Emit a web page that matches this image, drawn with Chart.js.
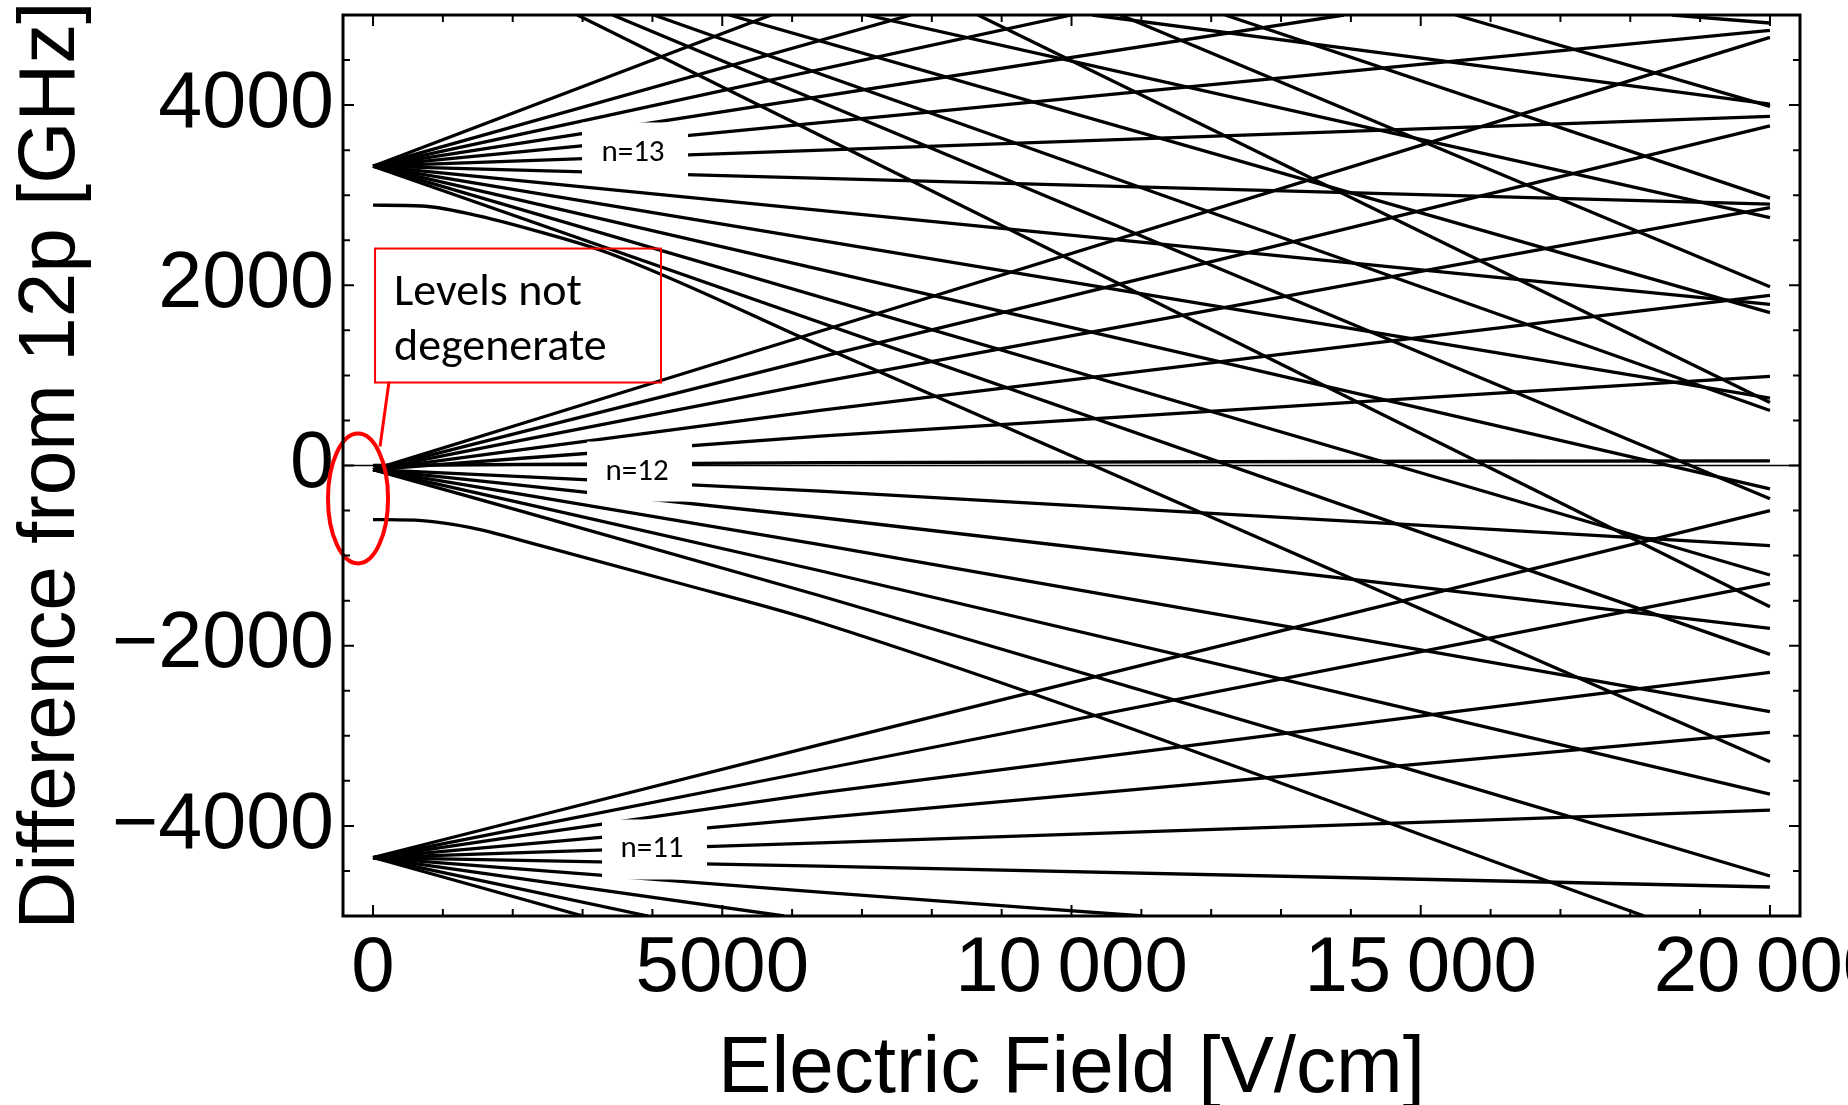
<!DOCTYPE html>
<html><head><meta charset="utf-8">
<script src="https://cdn.jsdelivr.net/npm/chart.js@4"></script>
<style>
html,body{margin:0;padding:0;background:#fff;overflow:hidden}
#wrap{position:relative;width:1848px;height:1105px}
</style></head><body>
<div id="wrap"><canvas id="c" width="1848" height="1105"></canvas></div>
<script>
// ===== axis ticks =====
const xTicks = [0, 5000, 10000, 15000, 20000];
const xTickLabels = ['0', '5000', '10\u2009000', '15\u2009000', '20\u2009000'];
const xMinorTicks = [0,1000,2000,3000,4000,5000,6000,7000,8000,9000,10000,11000,12000,13000,14000,15000,16000,17000,18000,19000,20000];
const yTicks = [-4000, -2000, 0, 2000, 4000];
const yTickLabels = ['\u22124000', '\u22122000', '0', '2000', '4000'];
const yMinorTicks = [-4500,-4000,-3500,-3000,-2500,-2000,-1500,-1000,-500,0,500,1000,1500,2000,2500,3000,3500,4000,4500];

// ===== energy levels: [field V/cm, difference GHz] =====
const n11Lines = [
  [[0,-4351],[6400,-3097],[20000,-500]],
  [[0,-4351],[6400,-3374],[20000,-1307]],
  [[0,-4351],[6400,-3633],[20000,-2296]],
  [[0,-4351],[6400,-3910],[20000,-2963]],
  [[0,-4351],[6400,-4188],[20000,-3826]],
  [[0,-4351],[6400,-4447],[20000,-4678]],
  [[0,-4351],[6400,-4736],[11024,-5000]],
  [[0,-4351],[5884,-5000]],
  [[0,-4351],[3937,-5000]],
  [[0,-4351],[3006,-5000]]
];
const n12Lines = [
  [[0,-45],[6400,1490],[20000,4752]],
  [[0,-45],[6400,1202],[20000,3770]],
  [[0,-45],[6400,925],[20000,2863]],
  [[0,-45],[6400,611],[20000,1889]],
  [[0,-45],[6400,325],[20000,989]],
  [[0,0],[6400,33],[20000,52]],
  [[0,-45],[6400,-285],[20000,-889]],
  [[0,-45],[6400,-577],[20000,-1808]],
  [[0,-45],[6400,-877],[20000,-2733]],
  [[0,-45],[6400,-1168],[20000,-3648]],
  [[0,-45],[6400,-1446],[20000,-4556]],
  [[0,-600],[700,-612],[1400,-690],[2400,-890],[4400,-1310],[6400,-1742],[18200,-5000]]
];
const n13Lines = [
  [[0,3322],[5700,5000]],
  [[0,3322],[7700,5000]],
  [[0,3322],[10000,5000]],
  [[0,3322],[13900,5000]],
  [[0,3322],[20000,4830]],
  [[0,3322],[20000,3874]],
  [[0,3322],[20000,2900]],
  [[0,3322],[20000,1789]],
  [[0,3322],[20000,748]],
  [[0,3322],[20000,-259]],
  [[0,3322],[20000,-1215]],
  [[0,3322],[20000,-2096]],
  [[0,2889],[700,2880],[1400,2790],[2400,2590],[3350,2364],[6400,1330],[20000,-3289]]
];
const n14Lines = [
  [[2925,5000],[20000,-1567]],
  [[3430,5000],[20000,-370]],
  [[4020,5000],[20000,611]],
  [[5100,5000],[20000,1696]],
  [[7060,5000],[20000,2752]],
  [[10300,5000],[20000,4011]],
  [[18600,5000],[20000,4911]]
];
const n15Lines = [
  [[8660,5000],[20000,700]],
  [[10700,5000],[20000,1985]],
  [[12200,5000],[20000,2967]],
  [[15500,5000],[20000,3985]]
];
const zeroLine = [[-430,0],[20430,0]];

// ===== annotations (data coordinates) =====
const manifoldLabels = [
  {text:'n=13', e0:2992, e1:4510, v0:3141, v1:3807, te:3722, tv:3463},
  {text:'n=12', e0:3064, e1:4567, v0:-400, v1:266, te:3780, tv:-74},
  {text:'n=11', e0:3278, e1:4782, v0:-4595, v1:-3929, te:3994, tv:-4262}
];
const noteBox = {e0:29, e1:4123, v0:921, v1:2408, lines:['Levels not','degenerate'], te:300, tv:[1780,1170]};
const noteLeader = [[229,932],[100,211]];
const noteEllipse = {e:-215, v:-366, re:430, rv:721};

// ===== build datasets =====
const datasets = [];
function addGroup(lines, w) {
  lines.forEach(l => datasets.push({
    data: l.map(p => ({x: p[0], y: p[1]})),
    borderColor: '#000', borderWidth: w, pointRadius: 0,
    cubicInterpolationMode: 'monotone', fill: false
  }));
}
addGroup([zeroLine], 1.3);
addGroup(n11Lines, 3.3);
addGroup(n12Lines, 3.3);
addGroup(n13Lines, 3.3);
addGroup(n14Lines, 3.3);
addGroup(n15Lines, 3.3);

const overlay = {
  id: 'overlay',
  afterDatasetsDraw(chart) {
    const {ctx, chartArea: a, scales: {x, y}} = chart;
    const X = v => x.getPixelForValue(v), Y = v => y.getPixelForValue(v);
    ctx.save();
    ctx.font = '31px Carlito, Lato, sans-serif';
    ctx.textAlign = 'center'; ctx.textBaseline = 'middle';
    manifoldLabels.forEach(m => {
      ctx.fillStyle = '#fff';
      ctx.fillRect(X(m.e0), Y(m.v1), X(m.e1) - X(m.e0), Y(m.v0) - Y(m.v1));
      ctx.fillStyle = '#000';
      ctx.fillText(m.text, X(m.te), Y(m.tv));
    });
    ctx.strokeStyle = '#ff0000'; ctx.lineWidth = 2;
    ctx.strokeRect(X(noteBox.e0), Y(noteBox.v1), X(noteBox.e1) - X(noteBox.e0), Y(noteBox.v0) - Y(noteBox.v1));
    ctx.fillStyle = '#000'; ctx.textAlign = 'left'; ctx.textBaseline = 'alphabetic';
    ctx.font = '46px Carlito, Lato, sans-serif';
    noteBox.lines.forEach((t, i) => ctx.fillText(t, X(noteBox.te), Y(noteBox.tv[i])));
    ctx.lineWidth = 3;
    ctx.beginPath();
    ctx.moveTo(X(noteLeader[0][0]), Y(noteLeader[0][1]));
    ctx.lineTo(X(noteLeader[1][0]), Y(noteLeader[1][1]));
    ctx.stroke();
    ctx.lineWidth = 4;
    ctx.beginPath();
    const cx = X(noteEllipse.e), cy = Y(noteEllipse.v);
    ctx.ellipse(cx, cy, X(noteEllipse.e + noteEllipse.re) - cx, Y(noteEllipse.v - noteEllipse.rv) - cy, 0, 0, Math.PI * 2);
    ctx.stroke();
    ctx.restore();
  },
  afterDraw(chart) {
    const {ctx, chartArea: a, scales: {x, y}} = chart;
    ctx.save();
    ctx.strokeStyle = '#000';
    ctx.lineWidth = 2;
    ctx.beginPath();
    xMinorTicks.forEach(v => {
      const p = x.getPixelForValue(v), len = xTicks.includes(v) ? 11 : 7;
      ctx.moveTo(p, a.bottom); ctx.lineTo(p, a.bottom - len);
      ctx.moveTo(p, a.top); ctx.lineTo(p, a.top + len);
    });
    yMinorTicks.forEach(v => {
      const p = y.getPixelForValue(v), len = yTicks.includes(v) ? 11 : 7;
      ctx.moveTo(a.left, p); ctx.lineTo(a.left + len, p);
      ctx.moveTo(a.right, p); ctx.lineTo(a.right - len, p);
    });
    ctx.stroke();
    ctx.lineWidth = 3;
    ctx.strokeRect(a.left, a.top, a.right - a.left, a.bottom - a.top);
    ctx.restore();
  }
};

new Chart(document.getElementById('c'), {
  type: 'line',
  data: {datasets},
  plugins: [overlay],
  options: {
    responsive: false, animation: false,
    layout: {padding: {top: 15, right: 48, bottom: 0, left: 0}},
    plugins: {legend: {display: false}, tooltip: {enabled: false}},
    elements: {line: {borderCapStyle: 'butt'}},
    scales: {
      x: {
        type: 'linear', min: -430, max: 20430,
        grid: {display: false, drawTicks: false}, border: {display: false},
        afterBuildTicks: s => { s.ticks = xTicks.map(v => ({value: v})); },
        ticks: {autoSkip: false, maxRotation: 0, padding: 7, color: '#000',
          font: {family: 'Liberation Sans', size: 78, lineHeight: 1.2},
          callback: (v, i) => xTickLabels[i]},
        title: {display: true, text: 'Electric Field [V/cm]', color: '#000',
          font: {family: 'Liberation Sans', size: 80, lineHeight: 0.88}, padding: {top: 0, bottom: 0}},
        afterFit: s => { s.height = 189; s.paddingLeft = 0; s.paddingRight = 0; }
      },
      y: {
        type: 'linear', min: -5000, max: 5000,
        grid: {display: false, drawTicks: false}, border: {display: false},
        afterBuildTicks: s => { s.ticks = yTicks.map(v => ({value: v})); },
        ticks: {autoSkip: false, padding: 9, color: '#000',
          font: {family: 'Liberation Sans', size: 79, lineHeight: 1.2},
          callback: (v, i) => yTickLabels[i]},
        title: {display: true, text: 'Difference from 12p [GHz]', color: '#000',
          font: {family: 'Liberation Sans', size: 80, lineHeight: 1}, padding: {top: 12, bottom: 0}},
        afterFit: s => { s.width = 343; s.paddingTop = 0; s.paddingBottom = 0; }
      }
    }
  }
});
</script>
</body></html>
